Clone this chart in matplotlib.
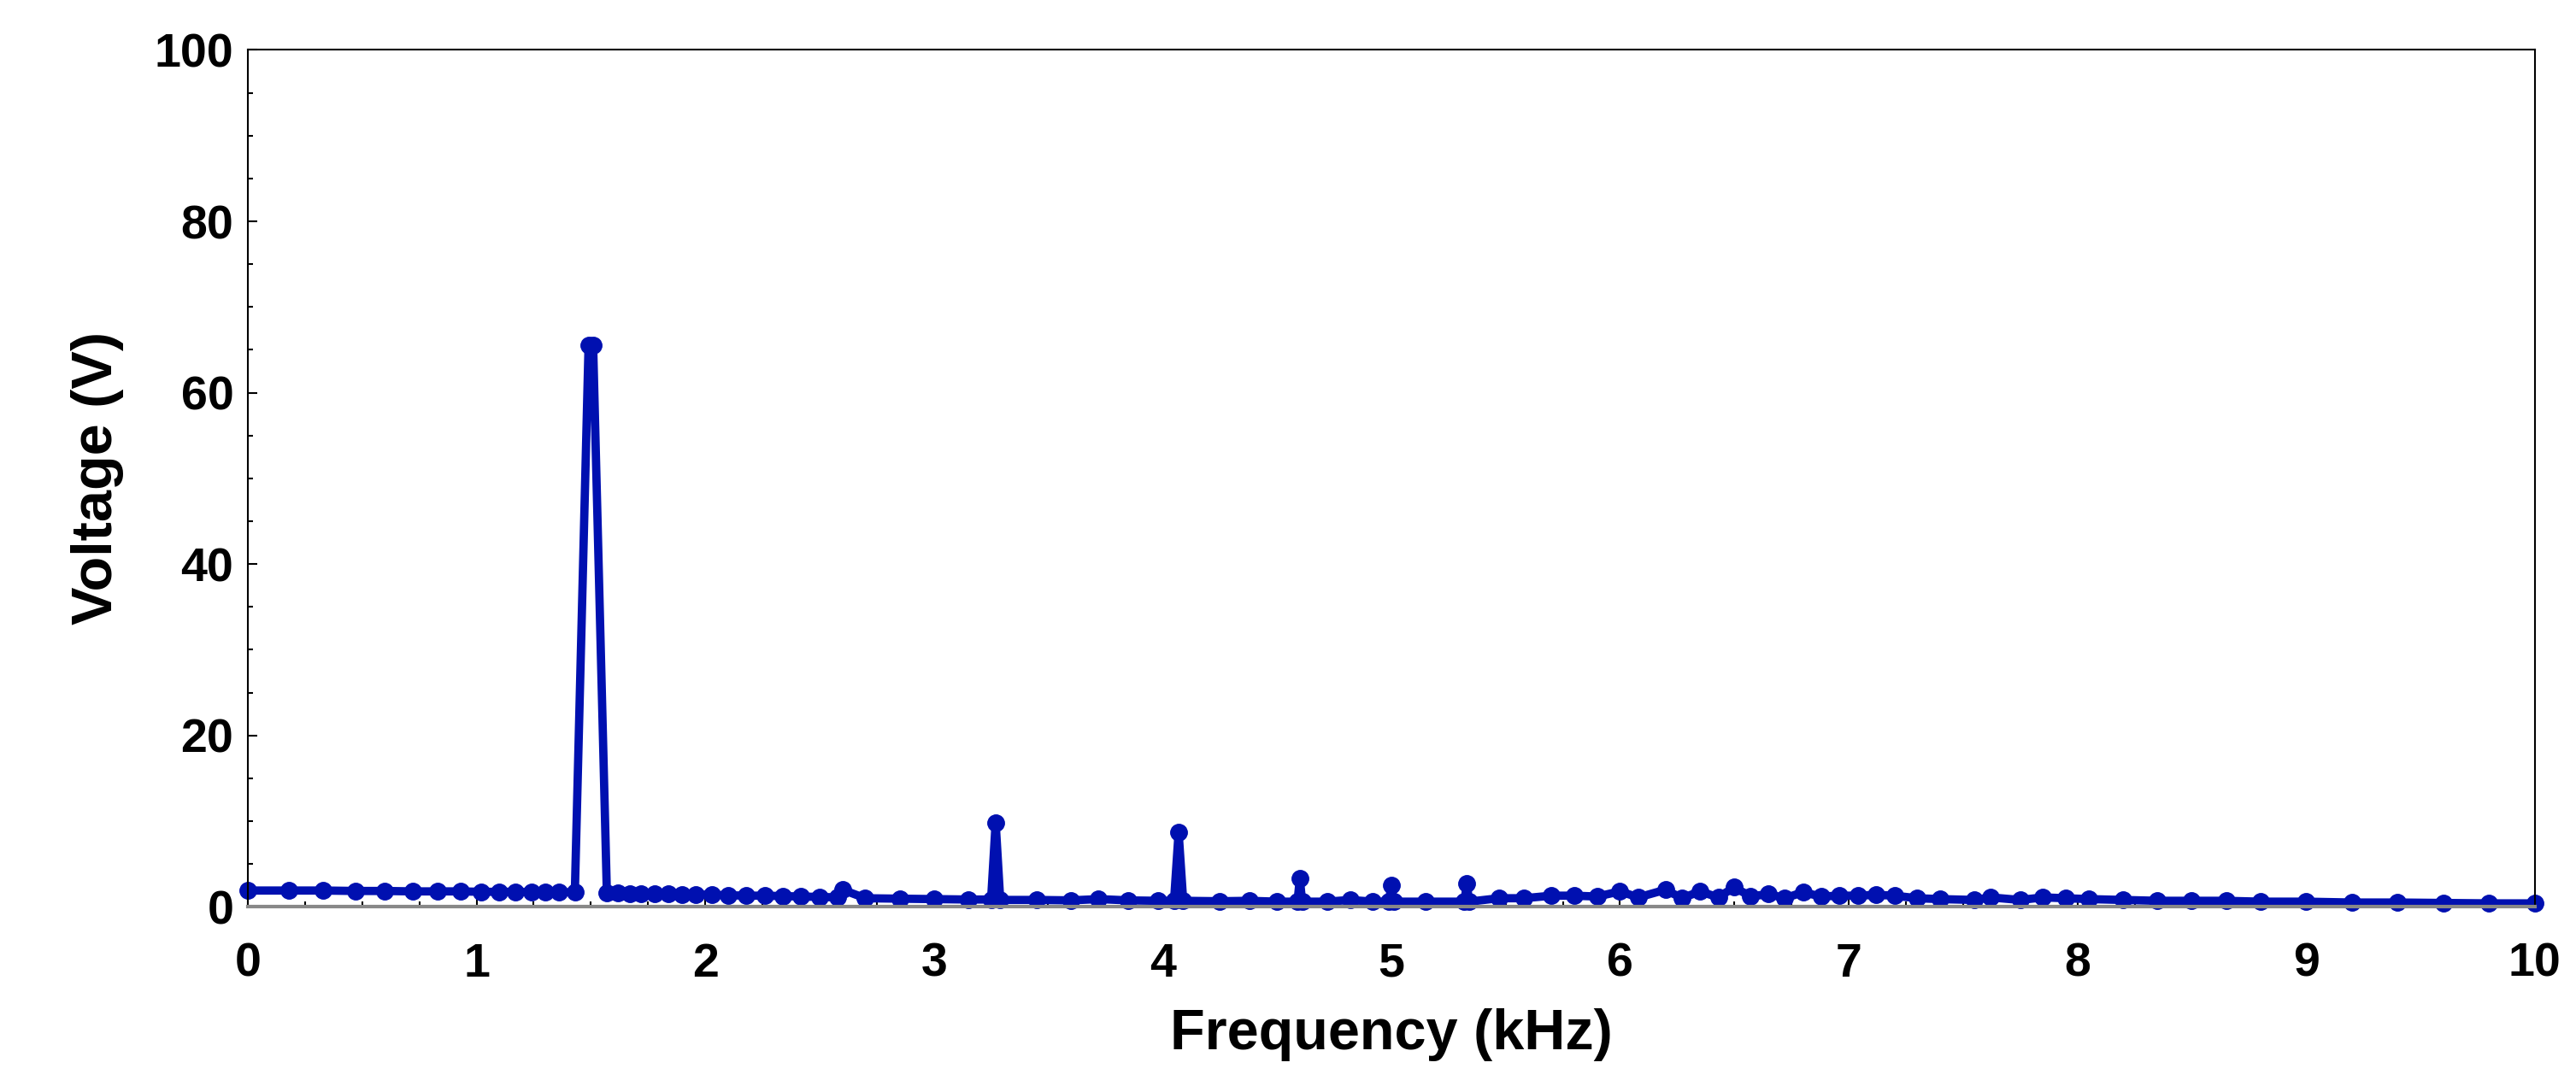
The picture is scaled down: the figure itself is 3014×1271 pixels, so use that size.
import matplotlib
matplotlib.use("Agg")
import matplotlib.pyplot as plt
from matplotlib.ticker import MultipleLocator

plt.rcParams['font.family'] = ['Liberation Sans', 'DejaVu Sans']

freq = [0.0,0.18,0.33,0.47,0.60,0.72,0.83,0.93,1.02,1.10,1.17,1.24,1.30,1.36,1.43,
        1.49,1.51,
        1.57,1.62,1.67,1.72,1.78,1.84,1.90,1.96,2.03,2.10,2.18,2.26,2.34,2.42,2.50,2.58,
        2.60,2.70,2.85,3.00,3.15,3.25,3.27,3.29,3.45,3.60,3.72,3.85,3.98,4.05,4.07,4.09,
        4.25,4.38,4.50,4.59,4.60,4.61,4.72,4.82,4.92,4.99,5.00,5.01,5.15,5.32,5.33,5.34,
        5.47,5.58,5.70,5.80,5.90,6.00,6.08,6.20,6.27,6.35,6.43,6.50,6.57,6.65,6.72,6.80,
        6.88,6.96,7.04,7.12,7.20,7.30,7.40,7.55,7.62,7.75,7.85,7.95,8.05,8.20,8.35,8.50,
        8.65,8.80,9.00,9.20,9.40,9.60,9.80,10.0]
volt = [1.9,1.9,1.9,1.85,1.85,1.8,1.8,1.8,1.75,1.75,1.75,1.7,1.7,1.7,1.7,
        65.5,65.5,
        1.6,1.6,1.55,1.55,1.5,1.5,1.45,1.45,1.4,1.35,1.3,1.3,1.25,1.2,1.15,1.1,
        2.0,1.0,0.95,0.9,0.85,0.85,9.8,0.8,0.8,0.75,0.9,0.75,0.7,0.7,8.7,0.7,
        0.65,0.7,0.6,0.6,3.3,0.6,0.6,0.8,0.6,0.6,2.5,0.6,0.6,0.6,2.7,0.6,
        1.0,1.0,1.3,1.3,1.2,1.8,1.1,2.0,1.0,1.8,1.1,2.3,1.2,1.5,1.0,1.7,
        1.2,1.3,1.3,1.4,1.3,1.0,0.9,0.8,1.1,0.8,1.1,1.0,0.9,0.8,0.7,0.7,
        0.7,0.6,0.6,0.5,0.5,0.45,0.4,0.4]

fig = plt.figure(figsize=(30.14, 12.71), dpi=100)
ax = fig.add_axes([0.0962, 0.165, 0.8878, 0.789])
ax.plot(freq, volt, color="#0010b0", lw=7, marker="o", ms=14, mec="#0010b0", mfc="#0010b0",
        clip_on=False)
ax.set_xlim(0, 10)
ax.set_ylim(0, 100)
ax.xaxis.set_major_locator(MultipleLocator(1))
ax.yaxis.set_major_locator(MultipleLocator(20))
ax.xaxis.set_minor_locator(MultipleLocator(0.25))
ax.yaxis.set_minor_locator(MultipleLocator(5))
ax.tick_params(which="both", direction="in", labelsize=40, width=1.5)
ax.tick_params(which="major", length=8)
ax.tick_params(which="minor", length=4)
ax.tick_params(axis="x", pad=30)
ax.tick_params(axis="y", pad=12)
for lab in ax.get_xticklabels() + ax.get_yticklabels():
    lab.set_fontweight("bold")
for s in ax.spines.values():
    s.set_linewidth(1.5)
ax.spines["bottom"].set_color("#888888")
ax.spines["bottom"].set_linewidth(3)
ax.set_xlabel("Frequency (kHz)", fontsize=48, fontweight="bold", labelpad=18)
ax.set_ylabel("Voltage (V)", fontsize=48, fontweight="bold", labelpad=26)
fig.savefig("out.png", dpi=100)
